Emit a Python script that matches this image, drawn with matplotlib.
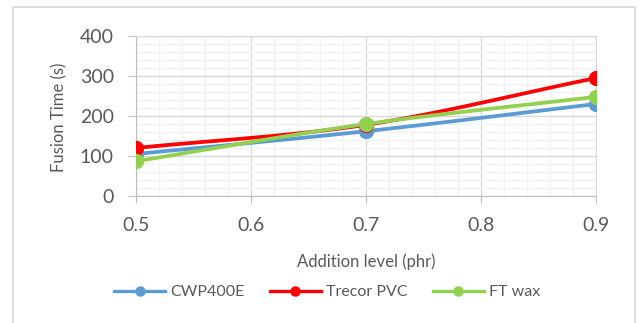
import numpy as np
import matplotlib.pyplot as plt
from matplotlib.patches import Rectangle
from matplotlib.ticker import MultipleLocator

# data
levels = [0.5, 0.7, 0.9]
cwp400e = [105, 162, 230]
trecor_pvc = [120, 178, 295]
ft_wax = [87, 180, 248]

series_names = ["CWP400E", "Trecor PVC", "FT wax"]
colors = ["#5B9BD5", "#FF0000", "#92D050"]

plt.rcParams['font.family'] = ['Lato', 'DejaVu Sans']


def smooth(xs, ys, n=40):
    # catmull-rom through the points, like excel's smoothed line
    xs = np.asarray(xs, float)
    ys = np.asarray(ys, float)
    px = np.concatenate([[2 * xs[0] - xs[1]], xs, [2 * xs[-1] - xs[-2]]])
    py = np.concatenate([[2 * ys[0] - ys[1]], ys, [2 * ys[-1] - ys[-2]]])
    out_x, out_y = [], []
    t = np.linspace(0, 1, n)
    for i in range(1, len(px) - 2):
        for p, out in ((px, out_x), (py, out_y)):
            p0, p1, p2, p3 = p[i - 1], p[i], p[i + 1], p[i + 2]
            out.extend(0.5 * ((2 * p1) + (-p0 + p2) * t
                              + (2 * p0 - 5 * p1 + 4 * p2 - p3) * t ** 2
                              + (-p0 + 3 * p1 - 3 * p2 + p3) * t ** 3))
    return out_x, out_y


fig = plt.figure(figsize=(6.39, 3.23), dpi=100)
ax = fig.add_axes([136 / 639, 1 - 196 / 323, 460 / 639, 160 / 323])

fig.patches.append(Rectangle((13 / 639, -0.1), 622 / 639, 1 - 7 / 323 + 0.1,
                             transform=fig.transFigure, fill=False,
                             edgecolor="#D9D9D9", linewidth=1.2))

for name, vals, c in zip(series_names, [cwp400e, trecor_pvc, ft_wax], colors):
    sx, sy = smooth(levels, vals)
    ax.plot(sx, sy, color=c, linewidth=2.7, solid_capstyle='round', zorder=3)
    ax.plot(levels, vals, 'o', color=c, markersize=10, zorder=4)
    ax.plot([], [], '-o', color=c, linewidth=2.4, markersize=6.5, label=name)

ax.set_xlim(0.5, 0.9)
ax.set_ylim(0, 400)
ax.xaxis.set_major_locator(MultipleLocator(0.1))
ax.xaxis.set_minor_locator(MultipleLocator(0.02))
ax.yaxis.set_major_locator(MultipleLocator(100))
ax.yaxis.set_minor_locator(MultipleLocator(20))
ax.xaxis.set_major_formatter(plt.FuncFormatter(lambda v, _: f"{v:.1f}"))

ax.grid(which='minor', color="#F2F2F2", linewidth=1.0)
ax.grid(which='major', color="#D9D9D9", linewidth=1.0)
ax.set_axisbelow(True)
for s in ax.spines.values():
    s.set_color("#D9D9D9")
ax.spines['left'].set_color("#BFBFBF")
ax.spines['bottom'].set_color("#BFBFBF")

ax.tick_params(which='major', color="#BFBFBF", labelsize=14,
               labelcolor="#595959")
ax.tick_params(axis='y', length=6, pad=10)
ax.tick_params(axis='x', length=5, pad=10)
ax.tick_params(which='minor', length=0)

ax.set_ylabel("Fusion Time (s)", fontsize=12, color="#595959")
ax.yaxis.set_label_coords(-0.15, 0.49)
ax.set_xlabel("Addition level (phr)", fontsize=12, color="#595959")
ax.xaxis.set_label_coords(0.5, -0.36)

fig.legend(loc='center', bbox_to_anchor=(327 / 639, 1 - 292 / 323), ncol=3,
           frameon=False, fontsize=11.5, labelcolor="#595959", handlelength=3.2,
           columnspacing=1.6, handletextpad=0.3)

fig.savefig("out.png", dpi=100)
